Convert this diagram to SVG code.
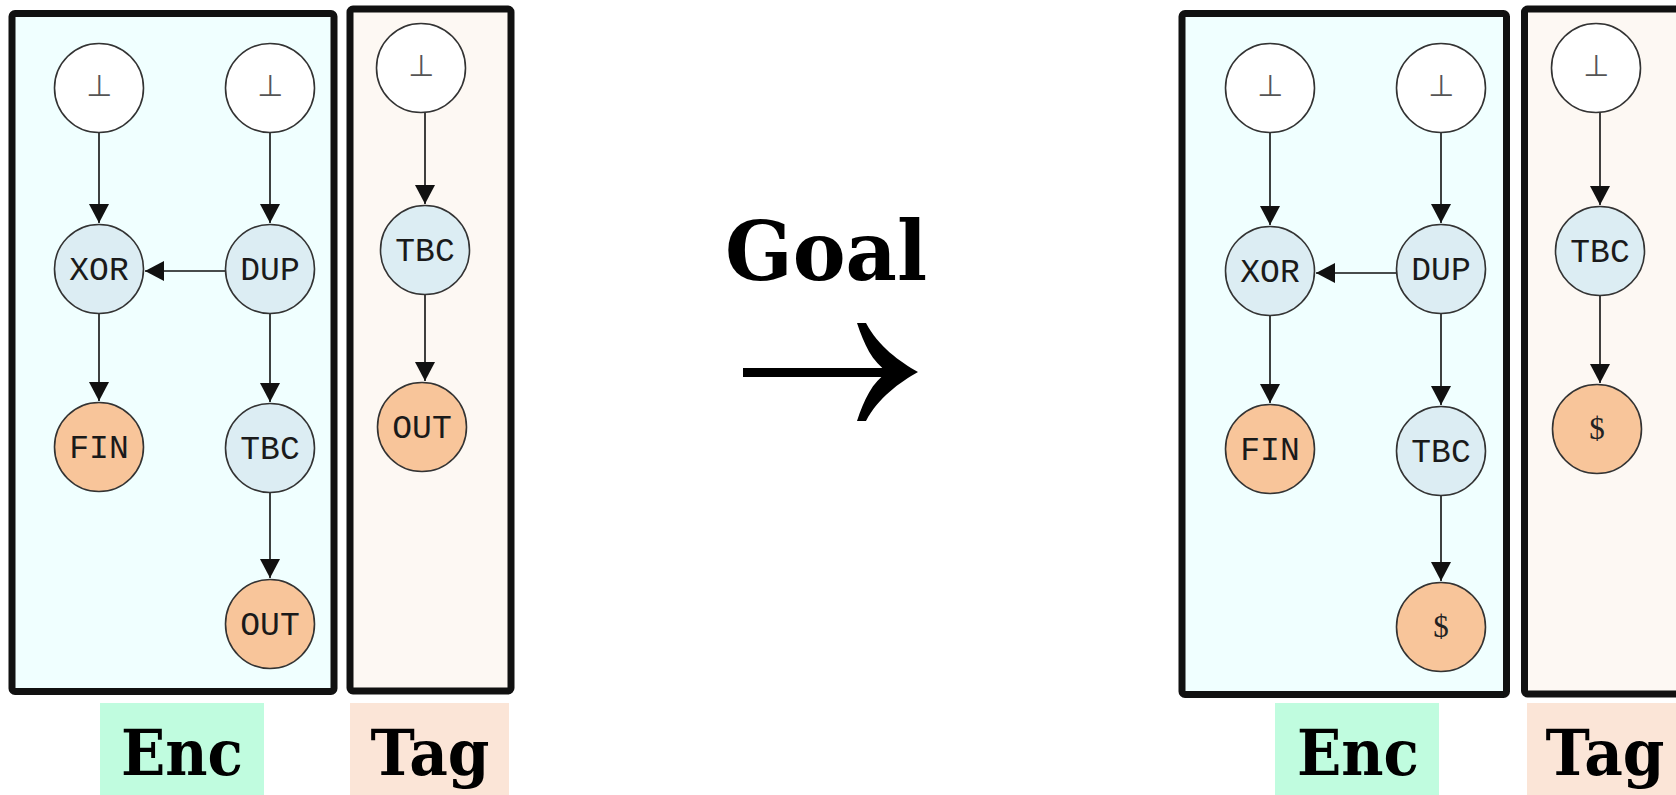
<svg xmlns="http://www.w3.org/2000/svg" width="1676" height="795" viewBox="0 0 1676 795">
  <defs>
    <marker id="arrow" viewBox="0 0 19 20" refX="19" refY="10" markerWidth="19" markerHeight="20" markerUnits="userSpaceOnUse" orient="auto">
      <path d="M0,0 L19,10 L0,20 Z" fill="#111"/>
    </marker>
    <style>
      .panel { stroke: #111; stroke-width: 7; }
      .enc { fill: #F0FFFF; }
      .tag { fill: #FDF8F3; }
      .node { stroke: #333; stroke-width: 1.6; }
      .bot { fill: #FFFFFF; }
      .op { fill: #DCEDF3; }
      .sink { fill: #F8C59A; }
      .lbl { font-family: "Liberation Mono", "DejaVu Sans Mono", monospace; font-size: 33px; fill: #1a1a1a; text-anchor: middle; }
      .tack { font-family: "DejaVu Sans", sans-serif; font-size: 30px; fill: #555; text-anchor: middle; }
      .dollar { font-family: "Liberation Serif", "DejaVu Serif", serif; font-size: 31px; fill: #222; text-anchor: middle; }
      .edge { stroke: #111; stroke-width: 1.6; fill: none; marker-end: url(#arrow); }
      .big { font-family: "DejaVu Serif", "Liberation Serif", serif; font-weight: bold; fill: #000; text-anchor: middle; }
    </style>
  </defs>

  <!-- panels -->
  <g id="panels">
    <rect id="enc-box-a" class="panel enc" x="12" y="13.5" width="322" height="678" rx="3"/>
    <rect id="tag-box-a" class="panel tag" x="350" y="9" width="161" height="682" rx="3"/>
    <rect id="enc-box-b" class="panel enc" x="1182" y="13.5" width="324.5" height="681" rx="3"/>
    <rect id="tag-box-b" class="panel tag" x="1524.5" y="9" width="200" height="685" rx="3"/>
  </g>

  <!-- connectors -->
  <g id="connectors">
    <line class="edge" x1="99" y1="133" x2="99" y2="223"/>
    <line class="edge" x1="270" y1="133" x2="270" y2="223"/>
    <line class="edge" x1="225" y1="271" x2="145" y2="271"/>
    <line class="edge" x1="99" y1="314" x2="99" y2="401"/>
    <line class="edge" x1="270" y1="314" x2="270" y2="402"/>
    <line class="edge" x1="270" y1="493" x2="270" y2="578"/>
    <line class="edge" x1="425" y1="113" x2="425" y2="204"/>
    <line class="edge" x1="425" y1="295" x2="425" y2="381"/>

    <line class="edge" x1="1270" y1="133" x2="1270" y2="225"/>
    <line class="edge" x1="1441" y1="133" x2="1441" y2="223"/>
    <line class="edge" x1="1396" y1="273" x2="1316" y2="273"/>
    <line class="edge" x1="1270" y1="316" x2="1270" y2="403"/>
    <line class="edge" x1="1441" y1="314" x2="1441" y2="405"/>
    <line class="edge" x1="1441" y1="496" x2="1441" y2="581"/>
    <line class="edge" x1="1600" y1="113" x2="1600" y2="205"/>
    <line class="edge" x1="1600" y1="296" x2="1600" y2="383"/>
  </g>

  <!-- left graph: Enc -->
  <g id="a-bot1"><circle class="node bot" cx="99" cy="88" r="44.5"/><text class="tack" x="99" y="96">⊥</text></g>
  <g id="a-bot2"><circle class="node bot" cx="270" cy="88" r="44.5"/><text class="tack" x="270" y="96">⊥</text></g>
  <g id="a-xor"><circle class="node op" cx="99" cy="269" r="44.5"/><text class="lbl" x="99" y="280">XOR</text></g>
  <g id="a-dup"><circle class="node op" cx="270" cy="269" r="44.5"/><text class="lbl" x="270" y="280">DUP</text></g>
  <g id="a-fin"><circle class="node sink" cx="99" cy="447" r="44.5"/><text class="lbl" x="99" y="458">FIN</text></g>
  <g id="a-tbc"><circle class="node op" cx="270" cy="448" r="44.5"/><text class="lbl" x="270" y="459">TBC</text></g>
  <g id="a-out"><circle class="node sink" cx="270" cy="624" r="44.5"/><text class="lbl" x="270" y="635">OUT</text></g>

  <!-- left graph: Tag -->
  <g id="a-tag-bot"><circle class="node bot" cx="421" cy="68" r="44.5"/><text class="tack" x="421" y="76">⊥</text></g>
  <g id="a-tag-tbc"><circle class="node op" cx="425" cy="250" r="44.5"/><text class="lbl" x="425" y="261">TBC</text></g>
  <g id="a-tag-out"><circle class="node sink" cx="422" cy="427" r="44.5"/><text class="lbl" x="422" y="438">OUT</text></g>

  <!-- right graph: Enc -->
  <g id="b-bot1"><circle class="node bot" cx="1270" cy="88" r="44.5"/><text class="tack" x="1270" y="96">⊥</text></g>
  <g id="b-bot2"><circle class="node bot" cx="1441" cy="88" r="44.5"/><text class="tack" x="1441" y="96">⊥</text></g>
  <g id="b-xor"><circle class="node op" cx="1270" cy="271" r="44.5"/><text class="lbl" x="1270" y="282">XOR</text></g>
  <g id="b-dup"><circle class="node op" cx="1441" cy="269" r="44.5"/><text class="lbl" x="1441" y="280">DUP</text></g>
  <g id="b-fin"><circle class="node sink" cx="1270" cy="449" r="44.5"/><text class="lbl" x="1270" y="460">FIN</text></g>
  <g id="b-tbc"><circle class="node op" cx="1441" cy="451" r="44.5"/><text class="lbl" x="1441" y="462">TBC</text></g>
  <g id="b-end"><circle class="node sink" cx="1441" cy="627" r="44.5"/><text class="dollar" x="1441" y="637">$</text></g>

  <!-- right graph: Tag -->
  <g id="b-tag-bot"><circle class="node bot" cx="1596" cy="68" r="44.5"/><text class="tack" x="1596" y="76">⊥</text></g>
  <g id="b-tag-tbc"><circle class="node op" cx="1600" cy="251" r="44.5"/><text class="lbl" x="1600" y="262">TBC</text></g>
  <g id="b-tag-end"><circle class="node sink" cx="1597" cy="429" r="44.5"/><text class="dollar" x="1597" y="439">$</text></g>

  <!-- panel captions -->
  <g id="captions">
    <rect x="100" y="703" width="164" height="92" fill="#C0FCDF"/>
    <text class="big" x="182" y="775" font-size="63" textLength="122" lengthAdjust="spacingAndGlyphs">Enc</text>
    <rect x="350" y="703" width="159" height="92" fill="#FBE5D7"/>
    <text class="big" x="430" y="775" font-size="63" textLength="119" lengthAdjust="spacingAndGlyphs">Tag</text>
    <rect x="1275" y="703" width="164" height="92" fill="#C0FCDF"/>
    <text class="big" x="1358" y="775" font-size="63" textLength="122" lengthAdjust="spacingAndGlyphs">Enc</text>
    <rect x="1527" y="703" width="149" height="92" fill="#FBE5D7"/>
    <text class="big" x="1605" y="775" font-size="63" textLength="119" lengthAdjust="spacingAndGlyphs">Tag</text>
  </g>

  <!-- transition: Goal arrow -->
  <g id="goal">
    <text class="big" x="826" y="280" font-size="82" textLength="202" lengthAdjust="spacingAndGlyphs">Goal</text>
    <rect x="743" y="368" width="150" height="9" fill="#000"/>
    <path d="M918,372 C900,362 878,346 866,323 L857,323 C864,344 872,362 888,372 C872,382 864,400 857,421 L866,421 C878,398 900,382 918,372 Z" fill="#000"/>
  </g>
</svg>
